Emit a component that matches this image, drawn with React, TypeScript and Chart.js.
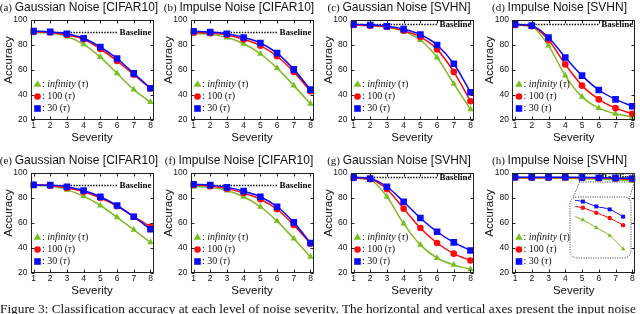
import React, { useEffect, useRef } from 'react';
import { Chart, registerables } from 'chart.js';
Chart.register(...registerables);

// ---------- data ----------
const severity = [1, 2, 3, 4, 5, 6, 7, 8];
const xTickLabels = ['1', '2', '3', '4', '5', '6', '7', '8'];
const yTickValues = [20, 40, 60, 80, 100];

const panelLetters = ['(a)', '(b)', '(c)', '(d)', '(e)', '(f)', '(g)', '(h)'];
const panelTitles = [
  'Gaussian Noise [CIFAR10]',
  'Impulse Noise [CIFAR10]',
  'Gaussian Noise [SVHN]',
  'Impulse Noise [SVHN]',
  'Gaussian Noise [CIFAR10]',
  'Impulse Noise [CIFAR10]',
  'Gaussian Noise [SVHN]',
  'Impulse Noise [SVHN]',
];
const baselineAcc = [90.5, 90.5, 96.5, 96.5, 90.5, 90.5, 96.5, 96.5];
const baselineLabel = 'Baseline';
const legendTau = ['infinity', '100', '30'];

// tau = infinity
const accInfA = [90, 89.5, 86.8, 80.5, 70.3, 57.3, 44.3, 34.3];
const accInfB = [89, 88.5, 86, 81, 73, 61.5, 47.5, 33];
const accInfC = [96, 95.5, 94, 91, 84, 70, 49, 28.5];
const accInfD = [96, 94.5, 79.5, 55.5, 38.5, 29.5, 25, 22.5];
const accInfE = [90, 89.5, 86.5, 81.5, 74, 64.5, 54.5, 44.5];
const accInfF = [89, 88.5, 86, 81, 73, 61.5, 47.5, 33];
const accInfG = [96, 94.5, 81, 59.5, 42.5, 32, 26.5, 23];
const accInfH = [96, 96, 95.9, 95.75, 95.44, 95.0, 94.54, 93.77];
// tau = 100
const acc100A = [90.5, 90, 88, 84.6, 76.8, 67.3, 56.2, 45.2];
const acc100B = [90, 89.5, 88, 84.5, 79.5, 71, 58.5, 43];
const acc100C = [96, 95.5, 94.5, 91.5, 86.5, 76.5, 58.5, 35];
const acc100D = [96, 95, 84, 64.5, 47.5, 36.5, 29.5, 25];
const acc100E = [90.5, 89.8, 88, 85, 80, 73.5, 65, 57];
const acc100F = [90.5, 89.5, 87.5, 84, 79, 71, 58.5, 43.5];
const acc100G = [96, 95, 87, 71.5, 56, 44, 35.5, 30];
const acc100H = [96.3, 96.3, 96.3, 96.25, 96.14, 95.85, 95.55, 95.14];
// tau = 30
const acc30A = [91.1, 90.5, 89, 85.4, 78.4, 69.2, 57.3, 45.4];
const acc30B = [91, 90.3, 89, 86, 81.6, 73.5, 60.5, 44.3];
const acc30C = [96.5, 96, 95, 92.7, 88.4, 80, 65, 42.2];
const acc30D = [96.5, 95.5, 86, 70, 55.5, 44, 36.5, 31];
const acc30E = [90.5, 90.3, 89, 86, 81, 74, 65, 55];
const acc30F = [91, 90.3, 88.5, 85.5, 81, 73, 60.5, 44];
const acc30G = [96.5, 95.5, 89, 77, 64, 53, 44.5, 38];
const acc30H = [96.7, 96.7, 96.65, 96.6, 96.5, 96.22, 96.05, 95.63];

const accInf = [accInfA, accInfB, accInfC, accInfD, accInfE, accInfF, accInfG, accInfH];
const acc100 = [acc100A, acc100B, acc100C, acc100D, acc100E, acc100F, acc100G, acc100H];
const acc30 = [acc30A, acc30B, acc30C, acc30D, acc30E, acc30F, acc30G, acc30H];

// zoom window of panel (h) shown in the inset
const zoomWindowX = [4.85, 8.12];
const zoomWindowY = [92.8, 99.2];
const insetX = [4.415, 8.365];
const insetY = [93.42, 96.59];

const captionText =
  'Figure 3: Classification accuracy at each level of noise severity. The horizontal and vertical axes present the input noise';

// ---------- style / layout ----------
const GREEN = '#7cbd22';
const RED = '#ff0a0a';
const BLUE = '#0a0aff';
const SANS = '"Liberation Sans", Arial, sans-serif';
const SERIF = '"Liberation Serif", "Times New Roman", serif';

const COL_LEFT = [0, 160, 320, 481];
const COL_W = [160, 160, 160, 159];
const ROW_TOP = [0, 153];
const CANVAS_H = 150;
const PLOT_LEFT = [30.5, 30.5, 30.5, 31];
const PLOT_RIGHT = [153.5, 153.5, 153.5, 155.5];
const PLOT_TOP = 20;
const PLOT_BOTTOM = 120;
const INSET = { left: 569, top: 196, size: 63 };

function drawMarker(ctx: CanvasRenderingContext2D, style: string, x: number, y: number, r: number, color: string) {
  ctx.save();
  ctx.fillStyle = color;
  ctx.beginPath();
  if (style === 'triangle') {
    ctx.moveTo(x, y - r * 1.15);
    ctx.lineTo(x + r, y + r * 0.6);
    ctx.lineTo(x - r, y + r * 0.6);
    ctx.closePath();
  } else if (style === 'circle') {
    ctx.arc(x, y, r, 0, Math.PI * 2);
  } else {
    ctx.rect(x - r, y - r, 2 * r, 2 * r);
  }
  ctx.fill();
  ctx.restore();
}

function roundRect(ctx: CanvasRenderingContext2D, x: number, y: number, w: number, h: number, r: number) {
  ctx.beginPath();
  ctx.moveTo(x + r, y);
  ctx.lineTo(x + w - r, y);
  ctx.quadraticCurveTo(x + w, y, x + w, y + r);
  ctx.lineTo(x + w, y + h - r);
  ctx.quadraticCurveTo(x + w, y + h, x + w - r, y + h);
  ctx.lineTo(x + r, y + h);
  ctx.quadraticCurveTo(x, y + h, x, y + h - r);
  ctx.lineTo(x, y + r);
  ctx.quadraticCurveTo(x, y, x + r, y);
  ctx.closePath();
}

function makeDecor(p: number) {
  const col = p % 4;
  const row = Math.floor(p / 4);
  return {
    id: 'decor' + p,
    beforeDatasetsDraw(chart: any) {
      const { ctx, chartArea } = chart;
      const ys = chart.scales.y;
      const yb = Math.round(ys.getPixelForValue(baselineAcc[p])) + 0.5;
      ctx.save();
      ctx.font = `bold 9px ${SERIF}`;
      const tw = ctx.measureText(baselineLabel).width;
      const tx = chartArea.right - 2 - tw;
      ctx.fillStyle = '#000';
      ctx.textBaseline = 'middle';
      ctx.textAlign = 'left';
      ctx.fillText(baselineLabel, tx, yb);
      ctx.strokeStyle = '#000';
      ctx.lineWidth = 1.4;
      ctx.setLineDash([1.4, 1.4]);
      ctx.beginPath();
      ctx.moveTo(chartArea.left + 1, yb);
      ctx.lineTo(tx - 2, yb);
      ctx.stroke();
      ctx.restore();
    },
    afterDraw(chart: any) {
      const { ctx, chartArea } = chart;
      const xs = chart.scales.x;
      const ys = chart.scales.y;
      const L = Math.round(chartArea.left) + 0.5;
      const R = Math.round(chartArea.right) - 0.5;
      const T = Math.round(chartArea.top) + 0.5;
      const B = Math.round(chartArea.bottom) - 0.5;
      ctx.save();
      // frame
      ctx.strokeStyle = '#222';
      ctx.lineWidth = 1;
      ctx.strokeRect(L, T, R - L, B - T);
      // inward ticks
      ctx.beginPath();
      yTickValues.forEach((v) => {
        const y = Math.round(ys.getPixelForValue(v)) + 0.5;
        ctx.moveTo(L, y); ctx.lineTo(L + 3, y);
        ctx.moveTo(R, y); ctx.lineTo(R - 3, y);
      });
      severity.forEach((v) => {
        const x = Math.round(xs.getPixelForValue(v)) + 0.5;
        ctx.moveTo(x, B); ctx.lineTo(x, B - 3);
        ctx.moveTo(x, T); ctx.lineTo(x, T + 3);
      });
      ctx.stroke();

      // title
      const cw = chart.width;
      ctx.fillStyle = '#111';
      ctx.textBaseline = 'middle';
      ctx.textAlign = 'left';
      ctx.font = `11px ${SERIF}`;
      const pre = panelLetters[p] + ' ';
      const pw = ctx.measureText(pre).width;
      ctx.font = `12px ${SANS}`;
      const mw = ctx.measureText(panelTitles[p]).width;
      const startX = cw / 2 - 1 - (pw + mw) / 2;
      ctx.font = `11px ${SERIF}`;
      ctx.fillText(pre, startX, 8);
      ctx.font = `12px ${SANS}`;
      ctx.fillText(panelTitles[p], startX + pw, 8);

      // axis titles
      ctx.font = `11.5px ${SANS}`;
      ctx.textAlign = 'center';
      ctx.fillText('Severity', (chartArea.left + chartArea.right) / 2, 138);
      ctx.save();
      ctx.translate(9, 60);
      ctx.rotate(-Math.PI / 2);
      ctx.fillText('Accuracy', 0, 0);
      ctx.restore();

      // legend
      const entries = [
        { style: 'triangle', color: GREEN, r: 3.8 },
        { style: 'circle', color: RED, r: 3.3 },
        { style: 'rect', color: BLUE, r: 3.3 },
      ];
      const offs = [35.5, 23.5, 11.5];
      entries.forEach((e, i) => {
        const y = chartArea.bottom - offs[i];
        drawMarker(ctx, e.style, chartArea.left + 7, y, e.r, e.color);
        let x = chartArea.left + 11.5;
        const parts: [string, boolean][] = [
          [': ', false],
          [legendTau[i], i === 0],
          [' (', false],
          ['τ', true],
          [')', false],
        ];
        ctx.textAlign = 'left';
        ctx.fillStyle = '#111';
        parts.forEach(([t, it]) => {
          ctx.font = `${it ? 'italic ' : ''}10px ${SERIF}`;
          ctx.fillText(t, x, y);
          x += ctx.measureText(t).width;
        });
      });

      // zoom window + connectors (panel h)
      if (p === 7) {
        const wx0 = xs.getPixelForValue(zoomWindowX[0]);
        const wx1 = xs.getPixelForValue(zoomWindowX[1]);
        const wy0 = ys.getPixelForValue(zoomWindowY[1]);
        const wy1 = ys.getPixelForValue(zoomWindowY[0]);
        ctx.strokeStyle = '#555';
        ctx.lineWidth = 1;
        ctx.setLineDash([1.2, 1.2]);
        ctx.strokeRect(wx0, wy0, wx1 - wx0, wy1 - wy0);
        const bl = INSET.left - COL_LEFT[col];
        const bt = INSET.top - ROW_TOP[row];
        ctx.beginPath();
        ctx.moveTo(wx0, wy1);
        ctx.lineTo(bl + 4, bt + 2);
        ctx.moveTo(wx1, wy1);
        ctx.lineTo(bl + INSET.size - 3, bt + 4);
        ctx.stroke();
      }
      ctx.restore();
    },
  };
}

function lineDataset(values: number[], color: string, style: string, r: number, bw: number) {
  return {
    data: values.map((v, i) => ({ x: severity[i], y: v })),
    borderColor: color,
    backgroundColor: color,
    pointBackgroundColor: color,
    pointBorderColor: color,
    pointBorderWidth: 0,
    pointStyle: style,
    pointRadius: r,
    borderWidth: bw,
    cubicInterpolationMode: 'monotone' as const,
    fill: false,
  };
}

function makeConfig(p: number): any {
  const col = p % 4;
  return {
    type: 'line',
    data: {
      datasets: [
        lineDataset(acc30[p], BLUE, 'rect', 4.7, 1.5),
        lineDataset(acc100[p], RED, 'circle', 3.3, 1.5),
        lineDataset(accInf[p], GREEN, 'triangle', 3.8, 1.5),
      ],
    },
    options: {
      responsive: false,
      maintainAspectRatio: false,
      animation: false,
      devicePixelRatio: 1,
      layout: { padding: { left: 0, right: COL_W[col] - PLOT_RIGHT[col], top: PLOT_TOP, bottom: 0 } },
      plugins: { legend: { display: false }, tooltip: { enabled: false }, title: { display: false } },
      scales: {
        x: {
          type: 'linear',
          min: 0.82,
          max: 8.18,
          grid: { display: false, drawTicks: false, tickLength: 0 },
          border: { display: false },
          afterBuildTicks: (s: any) => {
            s.ticks = severity.map((v) => ({ value: v }));
          },
          afterFit: (s: any) => {
            s.height = CANVAS_H - PLOT_BOTTOM;
          },
          ticks: {
            autoSkip: false,
            maxRotation: 0,
            padding: 1,
            color: '#111',
            font: { family: SANS, size: 8.5 },
            callback: (v: number) => xTickLabels[severity.indexOf(v)] ?? '',
          },
        },
        y: {
          min: 20,
          max: 100,
          grid: { display: false, drawTicks: false, tickLength: 0 },
          border: { display: false },
          afterBuildTicks: (s: any) => {
            s.ticks = yTickValues.map((v) => ({ value: v }));
          },
          afterFit: (s: any) => {
            s.width = PLOT_LEFT[col];
          },
          ticks: { padding: 3, color: '#111', font: { family: SANS, size: 8.5 } },
        },
      },
    },
    plugins: [makeDecor(p)],
  };
}

const insetBox = {
  id: 'insetBox',
  beforeDraw(chart: any) {
    const { ctx, width, height } = chart;
    ctx.save();
    ctx.fillStyle = '#fff';
    roundRect(ctx, 1, 1, width - 2, height - 2, 8);
    ctx.fill();
    ctx.strokeStyle = '#555';
    ctx.lineWidth = 1;
    ctx.setLineDash([1.2, 1.2]);
    ctx.stroke();
    ctx.restore();
  },
};

function makeInsetConfig(): any {
  const p = 7;
  const clip = { left: 0, right: 8, top: 8, bottom: 8 };
  return {
    type: 'line',
    data: {
      datasets: [
        { ...lineDataset(acc30[p], BLUE, 'rect', 2.8, 1), clip },
        { ...lineDataset(acc100[p], RED, 'circle', 2.2, 1), clip },
        { ...lineDataset(accInf[p], GREEN, 'triangle', 2.6, 1), clip },
      ],
    },
    options: {
      responsive: false,
      maintainAspectRatio: false,
      animation: false,
      devicePixelRatio: 1,
      layout: { padding: { left: 6, right: 3, top: 0, bottom: 0 } },
      plugins: { legend: { display: false }, tooltip: { enabled: false } },
      scales: {
        x: { type: 'linear', display: false, min: insetX[0], max: insetX[1] },
        y: { display: false, min: insetY[0], max: insetY[1] },
      },
    },
    plugins: [insetBox],
  };
}

function ChartCanvas({ make, left, top, width, height }: { make: () => any; left: number; top: number; width: number; height: number }) {
  const ref = useRef<HTMLCanvasElement>(null);
  useEffect(() => {
    if (!ref.current) return;
    const chart = new Chart(ref.current, make());
    return () => chart.destroy();
  }, []);
  return (
    <canvas
      ref={ref}
      width={width}
      height={height}
      style={{ position: 'absolute', left, top, width, height }}
    />
  );
}

export default function App() {
  const panels = [0, 1, 2, 3, 4, 5, 6, 7];
  return (
    <div
      style={{
        position: 'fixed',
        left: 0,
        top: 0,
        width: 640,
        height: 314,
        background: '#fff',
        overflow: 'hidden',
      }}
    >
      {panels.map((p) => (
        <ChartCanvas
          key={p}
          make={() => makeConfig(p)}
          left={COL_LEFT[p % 4]}
          top={ROW_TOP[Math.floor(p / 4)]}
          width={COL_W[p % 4]}
          height={CANVAS_H}
        />
      ))}
      <ChartCanvas make={makeInsetConfig} left={INSET.left} top={INSET.top} width={INSET.size} height={INSET.size} />
      <div
        style={{
          position: 'absolute',
          left: 0,
          top: 302,
          width: 700,
          whiteSpace: 'nowrap',
          fontFamily: SERIF,
          fontSize: 13.3,
          lineHeight: '13px',
          color: '#111',
        }}
      >
        {captionText}
      </div>
    </div>
  );
}
